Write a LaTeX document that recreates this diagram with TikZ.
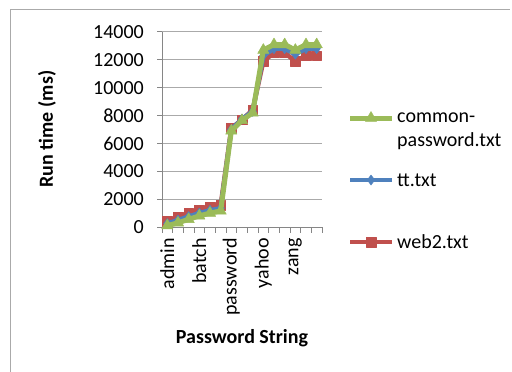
\documentclass[tikz,border=0pt]{standalone}
\usepackage{fontspec}
\setmainfont{Carlito}
\usetikzlibrary{plotmarks}
\definecolor{webcolor}{RGB}{192,80,77}
\definecolor{ttcolor}{RGB}{79,129,189}
\definecolor{commoncolor}{RGB}{155,187,89}
\definecolor{gridcolor}{RGB}{170,170,170}
\definecolor{axiscolor}{RGB}{134,134,134}

\begin{document}
\begin{tikzpicture}[
    x=1pt, y=-1pt,
    lbl/.style={inner sep=0pt, font=\fontsize{20}{24.4}\selectfont},
    ttl/.style={inner sep=0pt, font=\fontsize{20}{24.4}\selectfont\bfseries},
    gridline/.style={gridcolor, line width=1pt},
    axisline/.style={axiscolor, line width=1pt},
    webline/.style={webcolor, line width=4.5pt, line join=round, mark=square*, mark size=4.8pt, mark options={fill=webcolor, draw=webcolor, line width=0.5pt}},
    ttline/.style={ttcolor, line width=4.5pt, line join=round, mark=diamond*, mark size=5pt, mark options={fill=ttcolor, draw=ttcolor, line width=0.5pt}},
    commonline/.style={commoncolor, line width=5pt, line join=round, mark=triangle*, mark size=6.5pt, mark options={fill=commoncolor, draw=commoncolor, line width=0.5pt}}
]
    \useasboundingbox (0,0) rectangle (512,372);
    % Frame
    \draw[gridcolor, line width=1pt] (10,372) -- (10,9) -- (510,9);

    % Plot area: categories 1..15, values 0..14000
    \begin{scope}[shift={(156.667,227)}, x=10.667pt, y=0.0139286pt]
        \foreach \v in {2000,4000,...,14000}
            \draw[gridline] (0.5,\v) -- (15.5,\v);
        \foreach \v in {0,2000,...,14000} {
            \draw[axisline] (0.5,\v) -- ++(-5pt,0pt);
            \node[lbl, anchor=east] (ytick\v) at ([xshift=-18pt]0.5,\v) {\v};
        }
        \draw[axisline] (0.5,0) -- (0.5,14000);
        \draw[axisline] (0.5,0) -- (15.5,0);
        \foreach \i in {0,...,15}
            \draw[axisline] (\i+0.5,0) -- ++(0pt,-6pt);

        % Category labels
        \foreach \i/\name in {1/admin, 4/batch, 7/password, 10/yahoo, 13/zang}
            \node[lbl, rotate=90, anchor=east] (cat\i) at ([yshift=-11pt]\i,0) {\name};

        % Series
        \draw[webline] plot coordinates {(1,400) (2,700) (3,1000) (4,1200) (5,1400) (6,1550) (7,7100) (8,7700) (9,8400) (10,11900) (11,12500) (12,12500) (13,11900) (14,12300) (15,12300)};
        \draw[ttline] plot coordinates {(1,250) (2,500) (3,750) (4,1000) (5,1200) (6,1350) (7,7000) (8,7750) (9,8300) (10,12300) (11,12800) (12,12800) (13,12400) (14,12800) (15,12800)};
        \draw[commonline] plot coordinates {(1,100) (2,300) (3,550) (4,800) (5,1000) (6,1150) (7,6900) (8,7650) (9,8200) (10,12700) (11,13100) (12,13100) (13,12700) (14,13100) (15,13100)};
    \end{scope}

    % Axis titles
    \node[ttl, rotate=90] (ytitle) at (47,129) {Run time (ms)};
    \node[ttl] (xtitle) at (242,338) {Password String};

    % Legend
    \draw[commonline, mark indices={2}] plot coordinates {(350,118) (371,118) (392,118)};
    \node[lbl, anchor=west, align=left] (leg1) at (397,131) {common-\\password.txt};
    \draw[ttline, mark indices={2}] plot coordinates {(350,180) (371,180) (392,180)};
    \node[lbl, anchor=west] (leg2) at (397,180) {tt.txt};
    \draw[webline, mark indices={2}] plot coordinates {(350,242) (371,242) (392,242)};
    \node[lbl, anchor=west] (leg3) at (397,242) {web2.txt};
\end{tikzpicture}
\end{document}
